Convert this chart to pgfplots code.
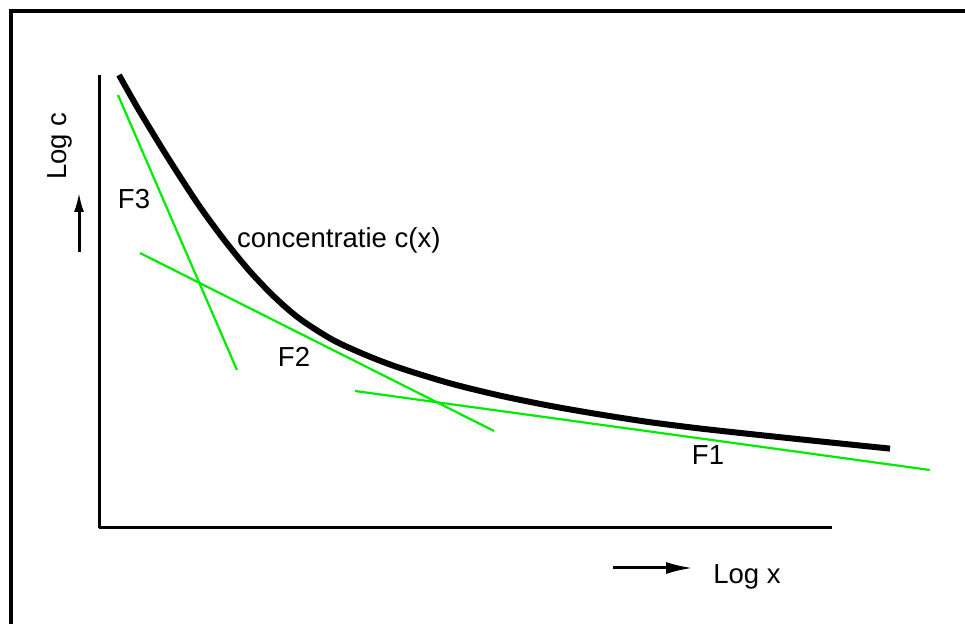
\documentclass[border=0pt]{standalone}
\usepackage{pgfplots}
\pgfplotsset{compat=1.18}
\usetikzlibrary{arrows.meta}
\usepackage{fontspec}
\setmainfont{Liberation Sans}
\definecolor{lgreen}{RGB}{0,235,0}
\begin{document}
\fontsize{27.5}{32}\selectfont
\begin{tikzpicture}[x=1pt,y=1pt]
\useasboundingbox (0,0) rectangle (965,623);
% frame (left and top edges; right and bottom lie outside the picture)
\draw[line width=3.5pt] (11,-5) -- (11,612) -- (975,612);
\begin{axis}[
  at={(99pt,95pt)}, anchor=south west,
  scale only axis, width=733pt, height=453pt,
  xmin=99, xmax=832, ymin=-528, ymax=-75,
  axis x line=bottom, axis y line=left,
  axis line style={line width=3pt,-},
  xtick=\empty, ytick=\empty,
  clip=false,
]
% concentration curve c(x)
\addplot[black, line width=6pt, smooth] coordinates {
(119,-75) (130,-94.6) (140,-112) (160,-145) (177,-172) (200,-207)
(225,-241) (250,-271.5) (275,-297.5) (300,-319) (333,-340) (367,-355.5)
(400,-368) (450,-383.3) (500,-395.6) (550,-405.8) (600,-414.5) (650,-422.2)
(700,-428.5) (750,-434) (800,-439.3) (850,-444.5) (890,-448.6)
};
% F3
\addplot[lgreen, line width=2.2pt] coordinates {(118,-95) (237,-370)};
% F2
\addplot[lgreen, line width=2.2pt] coordinates {(140,-253) (494,-431)};
% F1
\addplot[lgreen, line width=2.2pt] coordinates {(355,-391) (930,-470)};
\end{axis}
\node[anchor=west, inner sep=0pt] at (237,383) {concentratie c(x)};
\node[inner sep=0pt] at (134,424) {F3};
\node[inner sep=0pt] at (294,266) {F2};
\node[inner sep=0pt] at (708,168) {F1};
\node[inner sep=0pt] at (747,46) {Log x};
\node[inner sep=0pt, rotate=90] at (60,477) {Log c};
\draw[line width=3pt, -{Latex[length=27pt,width=12pt]}] (613,55) -- (693,55);
\draw[line width=3pt, -{Latex[length=20pt,width=10pt]}] (79,371) -- (79,431);
\end{tikzpicture}
\end{document}
